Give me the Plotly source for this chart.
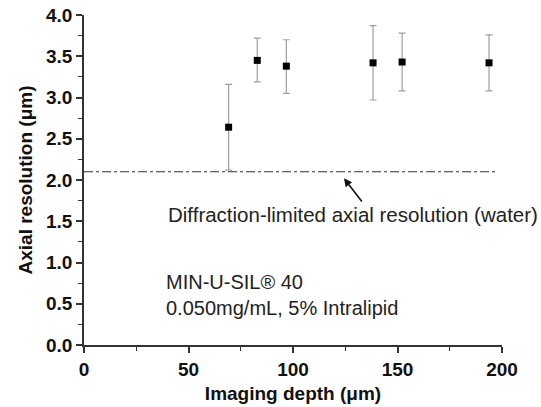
import plotly.graph_objects as go

depth = [69.2, 82.9, 96.8, 138.3, 152.2, 193.8]
resolution = [2.64, 3.45, 3.38, 3.42, 3.43, 3.42]
err_plus = [0.52, 0.27, 0.32, 0.45, 0.35, 0.34]
err_minus = [0.52, 0.26, 0.33, 0.45, 0.35, 0.34]

diff_limit_x = [0, 198]
diff_limit_y = [2.1, 2.1]

x_ticks = [0, 50, 100, 150, 200]
y_ticks = [0.0, 0.5, 1.0, 1.5, 2.0, 2.5, 3.0, 3.5, 4.0]

FONT = "Liberation Sans, Arial, sans-serif"

fig = go.Figure()
fig.add_trace(go.Scatter(
    x=diff_limit_x, y=diff_limit_y, mode="lines",
    line=dict(color="#333333", width=1, dash="dashdot"),
    showlegend=False, hoverinfo="skip"))
fig.add_trace(go.Scatter(
    x=depth, y=resolution, mode="markers",
    marker=dict(symbol="square", size=7, color="black"),
    error_y=dict(type="data", symmetric=False, array=err_plus, arrayminus=err_minus,
                 color="#a0a0a0", thickness=1.2, width=3.5),
    showlegend=False))

fig.add_annotation(x=124.4, y=2.02, ax=133.5, ay=1.72, xref="x", yref="y",
                   axref="x", ayref="y", showarrow=True, arrowhead=2,
                   arrowsize=1, arrowwidth=1.6, arrowcolor="#111111", text="")
fig.add_annotation(x=128.5, y=1.58, xref="x", yref="y",
                   text="Diffraction-limited axial resolution (water)",
                   showarrow=False, font=dict(family=FONT, size=20.5, color="#222222"))
fig.add_annotation(x=38.5, y=0.61, xref="x", yref="y", xanchor="left", yanchor="middle",
                   text="MIN-U-SIL® 40<br>0.050mg/mL, 5% Intralipid", align="left",
                   showarrow=False, font=dict(family=FONT, size=20, color="#222222"))

axis_common = dict(
    showline=True, linecolor="#333333", linewidth=1.5, ticks="outside", ticklen=6,
    tickwidth=1.5, tickcolor="#333333", showgrid=False, zeroline=False,
    tickfont=dict(family=FONT, size=19, color="#111111", weight="bold"),
    mirror=False, automargin=False,
)
fig.update_xaxes(range=[0, 200], tickmode="array", tickvals=x_ticks,
                 ticktext=[f"<b>{v}</b>" for v in x_ticks],
                 minor=dict(dtick=25, tick0=0, ticks="outside", ticklen=4, tickcolor="#333333", tickwidth=1),
                 title=dict(text="<b>Imaging depth (μm)</b>", font=dict(family=FONT, size=19, color="#111111"),
                            standoff=8),
                 **axis_common)
fig.update_yaxes(range=[0, 4.0], tickmode="array", tickvals=y_ticks,
                 ticktext=[f"<b>{v:.1f}</b>" for v in y_ticks],
                 minor=dict(dtick=0.25, tick0=0, ticks="outside", ticklen=4, tickcolor="#333333", tickwidth=1),
                 title=dict(text="<b>Axial resolution (μm)</b>", font=dict(family=FONT, size=19, color="#111111"),
                            standoff=8),
                 **axis_common)

fig.update_layout(width=541, height=407, margin=dict(l=84, r=39, t=15, b=62),
                  plot_bgcolor="white", paper_bgcolor="white", font=dict(family=FONT))
fig.write_html("out.html")
